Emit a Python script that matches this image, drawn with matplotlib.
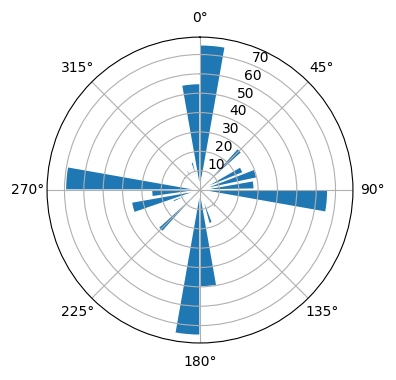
import matplotlib
matplotlib.use("Agg")
import matplotlib.pyplot as plt
import numpy as np

# left edge of each bar (degrees), its width (degrees) and its length
starts = [0, 10, 21, 31, 42, 60, 69, 80,
          90, 106, 117, 135, 146, 159, 170,
          180, 192, 202, 212, 222, 233, 245.5, 251, 262,
          270, 283, 291.5, 306.5, 314, 323.5, 333, 341.5, 350]
widths = [10, 5, 5, 5, 6, 8, 9, 9,
          10, 5, 5, 5, 5, 6, 10,
          10, 5, 5, 5, 6, 5, 5, 9, 8,
          10, 5, 5, 5, 5, 5, 5, 5, 10]
heights = [75, 9, 5, 5, 29, 24, 30, 28,
           66, 6, 7, 12, 6, 18, 50,
           75, 6, 7, 5, 29, 10, 15, 36, 25,
           69.5, 5, 10, 11, 6, 12, 7, 15, 55]

fig = plt.figure(figsize=(3.96, 3.8), dpi=100)
ax = fig.add_axes([0.1187, 0.0974, 0.7727, 0.805], projection="polar")
ax.set_theta_zero_location("N")
ax.set_theta_direction(-1)

ax.bar(np.deg2rad(starts), heights, width=np.deg2rad(widths), align="edge",
       color="#1f77b4", edgecolor="white", linewidth=1)

ax.set_ylim(0, 79)
ax.set_yticks([10, 20, 30, 40, 50, 60, 70])

fig.savefig("out.png", dpi=100)
